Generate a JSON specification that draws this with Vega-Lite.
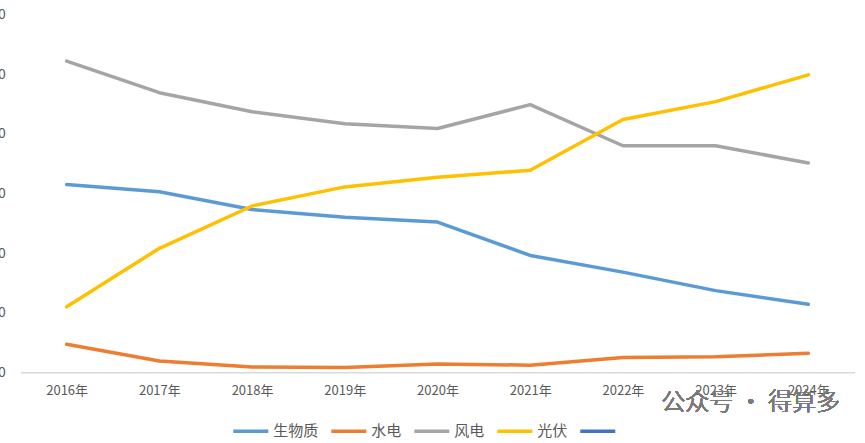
{
  "$schema": "https://vega.github.io/schema/vega-lite/v6.json",
  "autosize": {"type": "none"},
  "width": 834.4,
  "height": 357.7,
  "padding": {"left": 20.3, "top": 14.6, "right": 10.3, "bottom": 70.7},
  "background": "white",
  "data": {
    "values": [
      {"year": "2016年", "type": "生物质", "value": 31.5},
      {"year": "2017年", "type": "生物质", "value": 30.3},
      {"year": "2018年", "type": "生物质", "value": 27.3},
      {"year": "2019年", "type": "生物质", "value": 26.0},
      {"year": "2020年", "type": "生物质", "value": 25.2},
      {"year": "2021年", "type": "生物质", "value": 19.6},
      {"year": "2022年", "type": "生物质", "value": 16.8},
      {"year": "2023年", "type": "生物质", "value": 13.7},
      {"year": "2024年", "type": "生物质", "value": 11.4},
      {"year": "2016年", "type": "水电", "value": 4.7},
      {"year": "2017年", "type": "水电", "value": 1.9},
      {"year": "2018年", "type": "水电", "value": 0.9},
      {"year": "2019年", "type": "水电", "value": 0.8},
      {"year": "2020年", "type": "水电", "value": 1.4},
      {"year": "2021年", "type": "水电", "value": 1.2},
      {"year": "2022年", "type": "水电", "value": 2.5},
      {"year": "2023年", "type": "水电", "value": 2.6},
      {"year": "2024年", "type": "水电", "value": 3.2},
      {"year": "2016年", "type": "风电", "value": 52.2},
      {"year": "2017年", "type": "风电", "value": 46.9},
      {"year": "2018年", "type": "风电", "value": 43.7},
      {"year": "2019年", "type": "风电", "value": 41.7},
      {"year": "2020年", "type": "风电", "value": 40.9},
      {"year": "2021年", "type": "风电", "value": 44.9},
      {"year": "2022年", "type": "风电", "value": 38.0},
      {"year": "2023年", "type": "风电", "value": 38.0},
      {"year": "2024年", "type": "风电", "value": 35.1},
      {"year": "2016年", "type": "光伏", "value": 11.0},
      {"year": "2017年", "type": "光伏", "value": 20.8},
      {"year": "2018年", "type": "光伏", "value": 27.9},
      {"year": "2019年", "type": "光伏", "value": 31.1},
      {"year": "2020年", "type": "光伏", "value": 32.7},
      {"year": "2021年", "type": "光伏", "value": 33.9},
      {"year": "2022年", "type": "光伏", "value": 42.4},
      {"year": "2023年", "type": "光伏", "value": 45.4},
      {"year": "2024年", "type": "光伏", "value": 49.9}
    ]
  },
  "encoding": {
    "x": {
      "field": "year",
      "type": "ordinal",
      "sort": null,
      "scale": {"type": "point", "padding": 0.5},
      "axis": {
        "title": null,
        "labelAngle": 0,
        "ticks": false,
        "labelPadding": 12,
        "domainColor": "#d9d9d9",
        "domainWidth": 1.5,
        "labelFontSize": 13,
        "labelColor": "#595959"
      }
    },
    "y": {
      "field": "value",
      "type": "quantitative",
      "scale": {"domain": [0, 60], "nice": false},
      "axis": {
        "title": null,
        "values": [0, 10, 20, 30, 40, 50, 60],
        "grid": false,
        "domain": false,
        "ticks": false,
        "labelPadding": 15,
        "labelFontSize": 14,
        "labelColor": "#595959"
      }
    }
  },
  "layer": [
    {
      "mark": {"type": "line", "strokeWidth": 3.5, "strokeCap": "round", "strokeJoin": "round"},
      "encoding": {
        "color": {
          "field": "type",
          "type": "nominal",
          "scale": {
            "domain": ["生物质", "水电", "风电", "光伏", ""],
            "range": ["#5B9BD5", "#ED7D31", "#A5A5A5", "#FFC000", "#4472C4"]
          },
          "legend": {
            "title": null,
            "orient": "none",
            "direction": "horizontal",
            "legendX": 211,
            "legendY": 397,
            "symbolType": "stroke",
            "symbolSize": 1225,
            "symbolStrokeWidth": 3.5,
            "labelFontSize": 15,
            "labelColor": "#595959",
            "labelOffset": 3,
            "columnPadding": 5
          }
        }
      }
    },
    {
      "mark": {"type": "text", "fontSize": 24, "fontWeight": 300, "color": "#7a7a7a", "align": "center", "baseline": "middle", "dx": 35},
      "encoding": {
        "x": {"datum": "2023年"},
        "y": {"datum": -5.1},
        "text": {"value": "公众号 · 得算多"}
      }
    }
  ],
  "config": {
    "font": "Noto Sans CJK SC",
    "view": {"stroke": null}
  }
}
